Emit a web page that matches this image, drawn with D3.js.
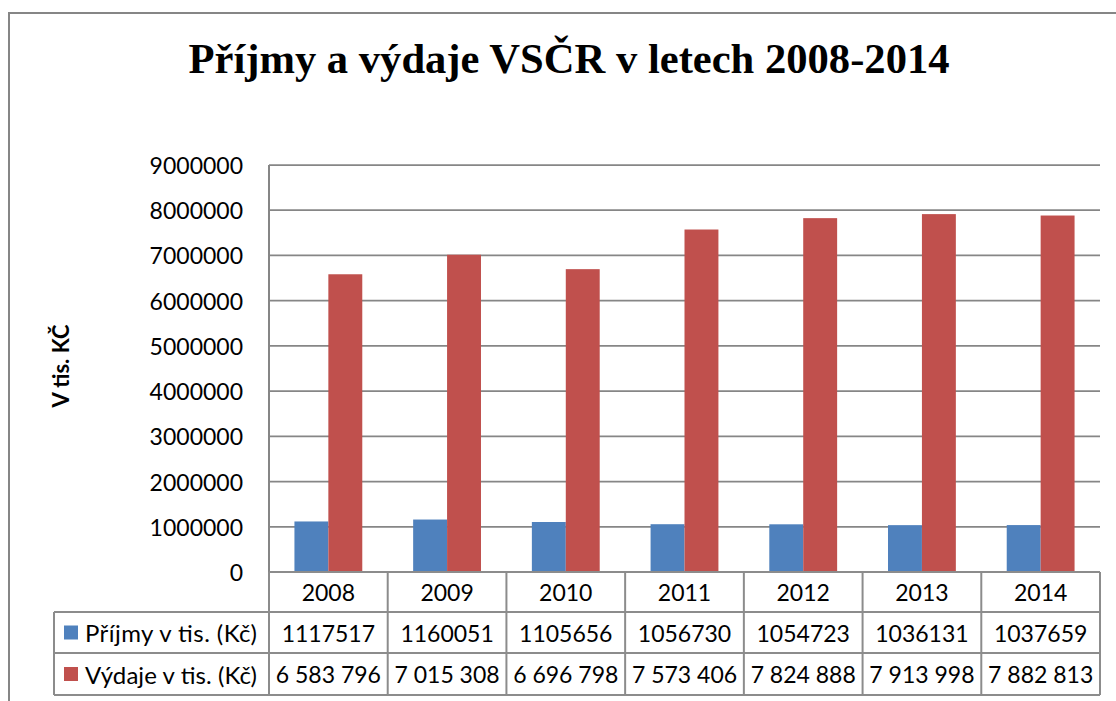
<!DOCTYPE html>
<html>
<head>
<meta charset="utf-8">
<script src="https://cdn.jsdelivr.net/npm/d3@7"></script>
<style>
  html, body { margin: 0; padding: 0; background: #fff; }
  svg { display: block; }
</style>
</head>
<body>
<svg id="chart" width="1116" height="701"></svg>
<script>
const title = "Příjmy a výdaje VSČR v letech 2008-2014";
const yAxisTitle = "V tis. KČ";
const years = ["2008", "2009", "2010", "2011", "2012", "2013", "2014"];
const seriesNames = ["Příjmy v tis. (Kč)", "Výdaje v tis. (Kč)"];
const prijmy = [1117517, 1160051, 1105656, 1056730, 1054723, 1036131, 1037659];
const vydaje = [6583796, 7015308, 6696798, 7573406, 7824888, 7913998, 7882813];
const yTicks = [0, 1000000, 2000000, 3000000, 4000000, 5000000, 6000000, 7000000, 8000000, 9000000];
const colors = ["#4F81BD", "#C0504D"];

const series = [prijmy, vydaje];
const svg = d3.select("#chart");
const font = "Lato, 'Liberation Sans', sans-serif";
const gridColor = "#868686";
const tableColor = "#8c8c8c";

const plotLeft = 269, plotRight = 1100, plotTop = 165, plotBottom = 572;
const rowH = [40, 41, 42];
const tableLeft = 54;

// Outer chart border (left and top visible)
svg.append("path")
  .attr("d", `M9,701 V13 H1116`)
  .attr("fill", "none").attr("stroke", gridColor).attr("stroke-width", 2);

// Title
svg.append("text")
  .attr("x", 569).attr("y", 73)
  .attr("text-anchor", "middle")
  .attr("font-family", "'Liberation Serif', 'Times New Roman', serif")
  .attr("font-weight", "bold").attr("font-size", 42.6)
  .attr("fill", "#000")
  .text(title);

const x = d3.scaleBand().domain(years).range([plotLeft, plotRight]).paddingInner(0).paddingOuter(0);
const x1 = d3.scaleBand().domain([0, 1]).range([0, x.bandwidth()]).paddingInner(0).paddingOuter(0.75);
const y = d3.scaleLinear().domain([0, 9000000]).range([plotBottom, plotTop]);

// Gridlines
svg.append("g").selectAll("line").data(yTicks.filter(d => d > 0)).join("line")
  .attr("x1", plotLeft).attr("x2", plotRight)
  .attr("y1", d => y(d)).attr("y2", d => y(d))
  .attr("stroke", gridColor).attr("stroke-width", 1.75);

// Y tick labels
svg.append("g").selectAll("text").data(yTicks).join("text")
  .attr("x", 243).attr("y", d => y(d))
  .attr("text-anchor", "end").attr("dominant-baseline", "central")
  .attr("font-family", font).attr("font-size", 23).attr("fill", "#000")
  .text(d => d3.format("d")(d));

// Y axis title
svg.append("text")
  .attr("transform", `translate(60,366) rotate(-90)`)
  .attr("text-anchor", "middle").attr("dominant-baseline", "central")
  .attr("font-family", font).attr("font-weight", "bold").attr("font-size", 22)
  .attr("fill", "#000")
  .text(yAxisTitle);

// Bars
series.forEach((vals, si) => {
  svg.append("g").selectAll("rect").data(vals).join("rect")
    .attr("x", (d, i) => x(years[i]) + x1(si))
    .attr("width", x1.bandwidth())
    .attr("y", d => y(d))
    .attr("height", d => y(0) - y(d))
    .attr("fill", colors[si]);
});

// Y axis line
svg.append("line")
  .attr("x1", plotLeft).attr("x2", plotLeft).attr("y1", plotTop).attr("y2", plotBottom)
  .attr("stroke", gridColor).attr("stroke-width", 2);

// Data table
const r0 = plotBottom, r1 = r0 + rowH[0], r2 = r1 + rowH[1], r3 = r2 + rowH[2];
const tbl = svg.append("g").attr("stroke", tableColor).attr("stroke-width", 2).attr("fill", "none");
tbl.append("line").attr("x1", plotLeft).attr("x2", plotRight).attr("y1", r0).attr("y2", r0);
[r1, r2, r3].forEach(ry => tbl.append("line").attr("x1", tableLeft).attr("x2", plotRight).attr("y1", ry).attr("y2", ry));
tbl.append("line").attr("x1", tableLeft).attr("x2", tableLeft).attr("y1", r1).attr("y2", r3);
years.forEach(yr => tbl.append("line").attr("x1", x(yr)).attr("x2", x(yr)).attr("y1", r0).attr("y2", r3));
tbl.append("line").attr("x1", plotRight).attr("x2", plotRight).attr("y1", r0).attr("y2", r3);

// header row: years
svg.append("g").selectAll("text").data(years).join("text")
  .attr("x", d => x(d) + x.bandwidth() / 2).attr("y", (r0 + r1) / 2)
  .attr("text-anchor", "middle").attr("dominant-baseline", "central")
  .attr("font-family", font).attr("font-size", 23).attr("fill", "#000")
  .text(d => d);

const spaced = d3.formatLocale({ decimal: ",", thousands: " ", grouping: [3], currency: ["", ""] }).format(",d");
const rowFormats = [d3.format("d"), spaced];
const rowCenters = [(r1 + r2) / 2, (r2 + r3) / 2];

series.forEach((vals, si) => {
  const cy = rowCenters[si];
  svg.append("rect")
    .attr("x", 64).attr("y", cy - 7).attr("width", 14).attr("height", 14)
    .attr("fill", colors[si]);
  svg.append("text")
    .attr("x", 85).attr("y", cy)
    .attr("dominant-baseline", "central")
    .attr("font-family", font).attr("font-size", 24).attr("fill", "#000")
    .attr("textLength", 172).attr("lengthAdjust", "spacing")
    .text(seriesNames[si]);
  svg.append("g").selectAll("text").data(vals).join("text")
    .attr("x", (d, i) => x(years[i]) + x.bandwidth() / 2).attr("y", cy)
    .attr("text-anchor", "middle").attr("dominant-baseline", "central")
    .attr("font-family", font).attr("font-size", 23).attr("fill", "#000")
    .text(d => rowFormats[si](d));
});
</script>
</body>
</html>
